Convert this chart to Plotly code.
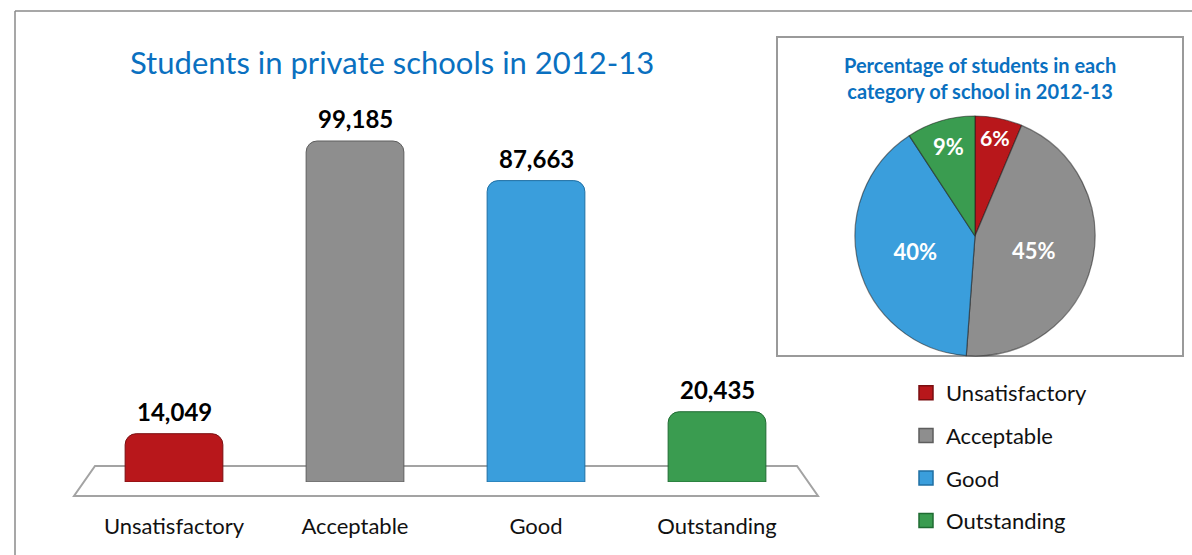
import plotly.graph_objects as go

# School categories and student counts, 2012-13
categories = ["Unsatisfactory", "Acceptable", "Good", "Outstanding"]
students = [14049, 99185, 87663, 20435]
bar_colors = ["#B8171B", "#8E8E8E", "#3A9EDC", "#3A9C50"]
edge_colors = ["#7A0E10", "#5E5E5E", "#1F6FA3", "#1F6B32"]

main_title = "Students in private schools in 2012-13"
pie_title = "Percentage of students in each<br>category of school in 2012-13"

W, H = 1192, 555
FONT = "Lato"
BLUE = "#0A70C0"


def fx(px):
    return px / W


def fy(py):
    return 1 - py / H


fig = go.Figure()

# bars, one trace per category
for i, (cat, val) in enumerate(zip(categories, students)):
    fig.add_trace(go.Bar(
        x=[cat], y=[val],
        name=cat,
        width=0.54,
        marker=dict(color=bar_colors[i], line=dict(color=edge_colors[i], width=1)),
        showlegend=False,
        hoverinfo="x+y",
    ))

# square legend keys
for i, cat in enumerate(categories):
    fig.add_trace(go.Scatter(
        x=[None], y=[None], mode="markers", name=cat, legendgroup=cat,
        marker=dict(symbol="square", size=14, color=bar_colors[i],
                    line=dict(color=edge_colors[i], width=1.5)),
        hoverinfo="skip",
    ))

# share of students by category
fig.add_trace(go.Pie(
    labels=categories, values=students,
    sort=False, direction="clockwise", rotation=0,
    marker=dict(colors=bar_colors, line=dict(color="rgba(30,30,30,0.55)", width=1.2)),
    texttemplate="%{percent:.0%}",
    textposition="inside",
    insidetextorientation="horizontal",
    textfont=dict(family=FONT, size=22, color="white", weight="bold"),
    domain=dict(x=[fx(855), fx(1095)], y=[fy(356), fy(116)]),
    showlegend=False,
))

# value labels above each bar
annotations = [
    dict(x=cat, y=val, xref="x", yref="y", text=f"{val:,}", showarrow=False,
         yanchor="bottom", yshift=6,
         font=dict(family=FONT, size=24, color="#000000", weight="bold"))
    for cat, val in zip(categories, students)
]
annotations.append(dict(
    x=fx(392), y=fy(62), xref="paper", yref="paper", text=main_title,
    showarrow=False, xanchor="center", yanchor="middle",
    font=dict(family=FONT, size=31, color=BLUE)))
annotations.append(dict(
    x=fx(980), y=fy(78), xref="paper", yref="paper", text=pie_title,
    showarrow=False, xanchor="center", yanchor="middle",
    font=dict(family=FONT, size=20, color=BLUE, weight="bold")))

zero_px, top_px = 482, 100
units_per_px = students[1] / (zero_px - 141)
y_top = (zero_px - top_px) * units_per_px

shapes = [
    # outer frame
    dict(type="line", xref="paper", yref="paper", x0=fx(15), x1=1.0, y0=fy(11), y1=fy(11),
         line=dict(color="#8A8A8A", width=1.5)),
    dict(type="line", xref="paper", yref="paper", x0=fx(15), x1=fx(15), y0=fy(11), y1=0,
         line=dict(color="#8A8A8A", width=1.5)),
    # floor of the bar chart
    dict(type="path", xref="paper", yref="paper", layer="below",
         path=(f"M {fx(95)} {fy(466)} L {fx(797)} {fy(466)} L {fx(818)} {fy(496)} "
               f"L {fx(74)} {fy(496)} Z"),
         line=dict(color="#A3A3A3", width=2)),
    # box around the pie
    dict(type="rect", xref="paper", yref="paper", layer="below",
         x0=fx(777), x1=fx(1183), y0=fy(356), y1=fy(37),
         line=dict(color="#9A9A9A", width=2), fillcolor="white"),
]

fig.update_layout(
    width=W, height=H,
    margin=dict(l=0, r=0, t=0, b=0),
    paper_bgcolor="white", plot_bgcolor="rgba(0,0,0,0)",
    barmode="overlay",
    barcornerradius=11,
    showlegend=True,
    legend=dict(
        x=fx(906), y=fy(372), xanchor="left", yanchor="top",
        font=dict(family=FONT, size=22, color="#111111"),
        tracegroupgap=11, itemwidth=30, itemsizing="trace",
        bgcolor="rgba(0,0,0,0)",
    ),
    xaxis=dict(
        domain=[fx(83.5), fx(807.5)], range=[-0.5, 3.5],
        categoryorder="array", categoryarray=categories,
        showline=False, showgrid=False, zeroline=False, ticks="",
        tickfont=dict(family=FONT, size=22, color="#111111"),
        ticklabelstandoff=29,
    ),
    yaxis=dict(
        domain=[fy(zero_px), fy(top_px)], range=[0, y_top],
        visible=False, showgrid=False, zeroline=False,
    ),
    annotations=annotations,
    shapes=shapes,
    font=dict(family=FONT),
)

fig.write_html("out.html")
